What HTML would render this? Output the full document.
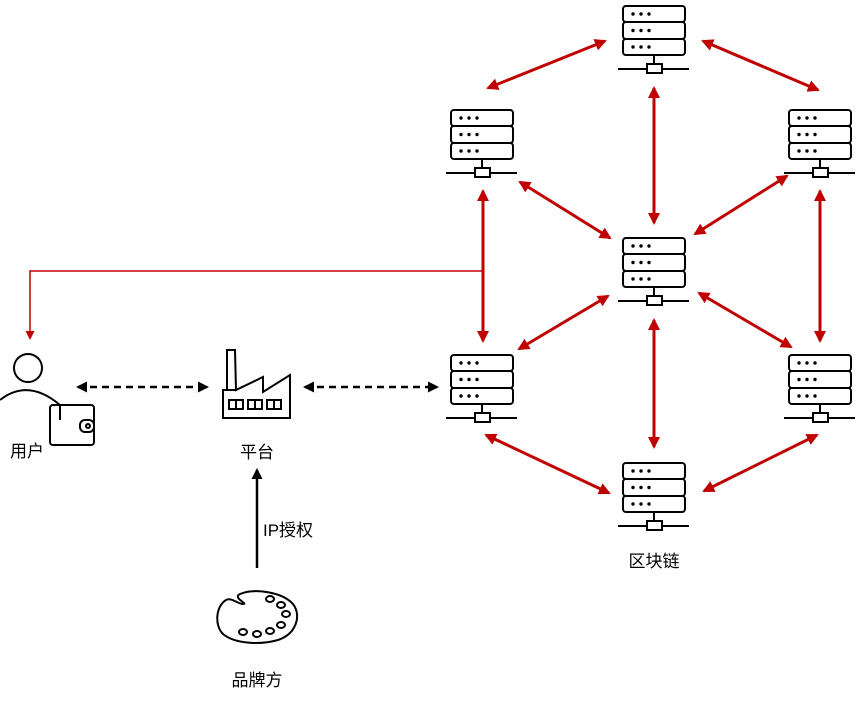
<!DOCTYPE html>
<html><head><meta charset="utf-8"><style>
body{margin:0;background:#fff;}
svg text{font-family:"Liberation Sans","Noto Sans CJK SC",sans-serif;font-size:17px;fill:#000;}
</style></head><body>
<svg width="865" height="699" viewBox="0 0 865 699" xmlns="http://www.w3.org/2000/svg">
<defs>
<marker id="ar" markerWidth="12" markerHeight="12" refX="10" refY="6" orient="auto-start-reverse" markerUnits="userSpaceOnUse" viewBox="0 0 12 12">
<path d="M0,0 L12,6 L0,12 z" fill="#c00000"/></marker>
<marker id="ab" markerWidth="11" markerHeight="11" refX="9" refY="5.5" orient="auto-start-reverse" markerUnits="userSpaceOnUse" viewBox="0 0 11 11">
<path d="M0,0 L11,5.5 L0,11 z" fill="#000"/></marker>
<marker id="ar2" markerWidth="9" markerHeight="9" refX="7" refY="4.5" orient="auto" markerUnits="userSpaceOnUse" viewBox="0 0 9 9">
<path d="M0,0 L9,4.5 L0,9 z" fill="#c00000"/></marker>
<g id="srv" fill="none" stroke="#000" stroke-width="2">
<rect x="-31" y="0" width="62" height="16" rx="3" fill="#fff"/>
<rect x="-31" y="16" width="62" height="17" rx="3" fill="#fff"/>
<rect x="-31" y="33" width="62" height="16" rx="3" fill="#fff"/>
<g fill="#000" stroke="none">
<circle cx="-21" cy="8" r="1.7"/><circle cx="-13" cy="8" r="1.7"/><circle cx="-5" cy="8" r="1.7"/>
<circle cx="-21" cy="24.5" r="1.7"/><circle cx="-13" cy="24.5" r="1.7"/><circle cx="-5" cy="24.5" r="1.7"/>
<circle cx="-21" cy="41" r="1.7"/><circle cx="-13" cy="41" r="1.7"/><circle cx="-5" cy="41" r="1.7"/>
</g>
<line x1="0" y1="49" x2="0" y2="58"/>
<line x1="-36" y1="63" x2="35" y2="63"/>
<rect x="-7" y="58" width="15" height="9" fill="#fff"/>
</g>
</defs>
<use href="#srv" x="654" y="6"/>
<use href="#srv" x="482" y="110"/>
<use href="#srv" x="820" y="110"/>
<use href="#srv" x="654" y="238"/>
<use href="#srv" x="482" y="355"/>
<use href="#srv" x="820" y="355"/>
<use href="#srv" x="654" y="463"/>
<g stroke="#c00000" stroke-width="3" marker-start="url(#ar)" marker-end="url(#ar)">
<line x1="605" y1="41" x2="488" y2="88"/>
<line x1="703" y1="41" x2="818" y2="90"/>
<line x1="654" y1="88" x2="654" y2="223"/>
<line x1="520" y1="182" x2="610" y2="238"/>
<line x1="787" y1="176" x2="695" y2="234"/>
<line x1="483" y1="191" x2="483" y2="341"/>
<line x1="820" y1="191" x2="820" y2="341"/>
<line x1="608" y1="296" x2="519" y2="349"/>
<line x1="699" y1="293" x2="791" y2="347"/>
<line x1="654" y1="320" x2="654" y2="447"/>
<line x1="486" y1="435" x2="609" y2="493"/>
<line x1="817" y1="435" x2="704" y2="491"/>
</g>
<polyline points="483,271 30,271 30,338" fill="none" stroke="#c00000" stroke-width="1.5" marker-end="url(#ar2)"/>
<g stroke="#000" stroke-width="2.5" stroke-dasharray="7,5" marker-start="url(#ab)" marker-end="url(#ab)">
<line x1="78" y1="387" x2="207" y2="387"/>
<line x1="305" y1="387" x2="437" y2="387"/>
</g>
<line x1="257" y1="568" x2="257" y2="470" stroke="#000" stroke-width="2.5" marker-end="url(#ab)"/>
<!-- person -->
<g fill="none" stroke="#000" stroke-width="2">
<circle cx="28" cy="368" r="14"/>
<path d="M0,400 Q28,378 60,405 L60,420"/>
<rect x="50" y="405" width="44" height="40" rx="3" fill="#fff"/>
<path d="M60,405 L60,420"/>
<rect x="80" y="420" width="14" height="12" rx="5" fill="#fff"/>
<circle cx="88" cy="426" r="2"/>
</g>
<!-- factory -->
<g fill="none" stroke="#000" stroke-width="2">
<path d="M223,418 L223,390 L227,390 L227,350 L235,350 L236,390 L263,377 L263,392 L290,375 L290,418 Z"/>
<line x1="223" y1="390" x2="236" y2="390"/>
<rect x="229" y="400" width="14" height="9"/><line x1="236" y1="400" x2="236" y2="409"/>
<rect x="248" y="400" width="14" height="9"/><line x1="255" y1="400" x2="255" y2="409"/>
<rect x="267" y="400" width="14" height="9"/><line x1="274" y1="400" x2="274" y2="409"/>
</g>
<!-- palette -->
<g fill="none" stroke="#000" stroke-width="2">
<path d="M240,594 C255,588 282,592 293,604 C302,616 296,634 278,640 C260,645 235,644 223,634 C214,625 216,606 226,600 C231,597 238,604 243,604 C249,604 232,598 240,594 Z"/>
<ellipse cx="270" cy="599" rx="4" ry="3"/>
<ellipse cx="281" cy="605" rx="4" ry="3"/>
<ellipse cx="286" cy="614" rx="4" ry="3"/>
<ellipse cx="281" cy="625" rx="4" ry="3"/>
<ellipse cx="270" cy="631" rx="4" ry="3"/>
<ellipse cx="257" cy="634" rx="4" ry="3"/>
<ellipse cx="243" cy="632" rx="4" ry="3"/>
</g>
<text x="27" y="457" text-anchor="middle">用户</text>
<text x="257" y="458" text-anchor="middle">平台</text>
<text x="263" y="536">IP授权</text>
<text x="257" y="686" text-anchor="middle">品牌方</text>
<text x="654" y="567" text-anchor="middle">区块链</text>
</svg>
</body></html>
